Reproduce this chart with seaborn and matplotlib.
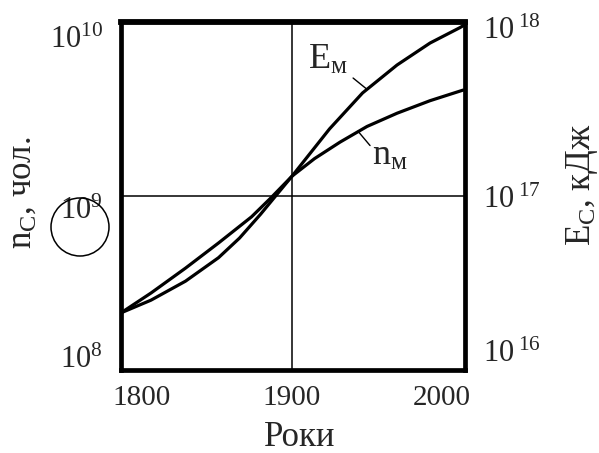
import numpy as np
import pandas as pd
import matplotlib
matplotlib.use("Agg")
import matplotlib.pyplot as plt
import matplotlib.transforms as mtransforms
from matplotlib.patches import Ellipse
from matplotlib.ticker import NullLocator, NullFormatter
import seaborn as sns

# Population (people) and energy use (kJ) over the years
n_years = [1786, 1806, 1829, 1851, 1873, 1886, 1900, 1915, 1932, 1950, 1970, 1992, 2014]
n_people = [2.13e8, 2.77e8, 3.85e8, 5.37e8, 7.59e8, 9.77e8, 1.30e9,
            1.64e9, 2.04e9, 2.51e9, 2.99e9, 3.53e9, 4.06e9]

e_years = [1786, 1806, 1829, 1851, 1865, 1879, 1890, 1900, 1925, 1947, 1970, 1992, 2012, 2015.3]
e_kj = [2.13e16, 2.52e16, 3.24e16, 4.42e16, 5.73e16, 7.85e16, 1.023e17,
        1.30e17, 2.43e17, 3.91e17, 5.66e17, 7.57e17, 9.29e17, 9.66e17]

x_ticks = [1800, 1900, 2000]
x_tick_labels = ["1800", "1900", "2000"]
n_ticks = [1e8, 1e9, 1e10]
n_tick_labels = [r"$10^{8}$", r"$10^{9}$", r"$10^{10}$"]
e_ticks = [1e16, 1e17, 1e18]
e_tick_labels = [r"$10^{\;16}$", r"$10^{\;17}$", r"$10^{\;18}$"]

sns.set_style("white")
plt.rcParams["font.family"] = ["Liberation Serif", "DejaVu Serif"]
plt.rcParams["mathtext.fontset"] = "custom"
plt.rcParams["mathtext.rm"] = "Liberation Serif"
plt.rcParams["mathtext.it"] = "Liberation Serif:italic"
plt.rcParams["mathtext.default"] = "regular"

df_n = pd.DataFrame({"year": n_years, "value": n_people})
df_e = pd.DataFrame({"year": e_years, "value": e_kj})

fig = plt.figure(figsize=(5.99, 4.53), dpi=100)
ax = fig.add_axes([121 / 599, 1 - 370 / 453, 344 / 599, 348 / 453])
ax2 = ax.twinx()

ax.set_yscale("log")
ax2.set_yscale("log")

# reference grid lines through the middle tick of each axis
ax.axvline(x_ticks[1], color="black", lw=1.1, zorder=1)
ax.axhline(n_ticks[1], color="black", lw=1.1, zorder=1)

line_kw = dict(color="black", lw=2.3, zorder=3, solid_joinstyle="round", solid_capstyle="round")
sns.lineplot(data=df_n, x="year", y="value", ax=ax, **line_kw)
sns.lineplot(data=df_e, x="year", y="value", ax=ax2, **line_kw)

for a in (ax, ax2):
    a.yaxis.set_minor_locator(NullLocator())
    a.yaxis.set_minor_formatter(NullFormatter())
    a.grid(False)

ax.set_xticks(x_ticks, labels=x_tick_labels)
ax.set_yticks(n_ticks, labels=n_tick_labels)
ax2.set_yticks(e_ticks, labels=e_tick_labels)
ax.set_xlim(1786, 2015.3)
ax.set_ylim(1e8, 1e10)
ax2.set_ylim(1e16, 1e18)

ax.tick_params(axis="x", length=0, pad=11, labelsize=21)
ax.tick_params(axis="y", length=0, pad=13, labelsize=22)
ax2.tick_params(axis="y", length=0, pad=13, labelsize=22)

# nudge the decade labels vertically (pixels, positive = down)
def shift_labels(labels, shifts):
    for lab, d in zip(labels, shifts):
        off = mtransforms.ScaledTranslation(0, -d / 100, fig.dpi_scale_trans)
        lab.set_transform(lab.get_transform() + off)

shift_labels(ax.get_yticklabels(), [-13, 12, 15])
shift_labels(ax2.get_yticklabels(), [-19, 1, 6])

for s in ax.spines.values():
    s.set_visible(True)
    s.set_linewidth(3.4)
    s.set_color("black")
ax.spines["top"].set_linewidth(4.2)
for s in ax2.spines.values():
    s.set_visible(False)

ax.set_xlabel("Роки", fontsize=25)
ax.xaxis.set_label_coords((300 - 121) / 344, (370 - 437) / 348)
ax.xaxis.label.set_va("center")

ax.set_ylabel(r"n$_\mathrm{C}$, чол.", fontsize=25)
ax.yaxis.set_label_coords((22 - 121) / 344, (370 - 193) / 348)
ax.yaxis.label.set_va("center")
ax.yaxis.label.set_ha("center")

ax2.set_ylabel(r"E$_\mathrm{C}$, кДж", fontsize=25, rotation=90)
ax2.yaxis.set_label_coords((582 - 121) / 344, (370 - 185) / 348)
ax2.yaxis.label.set_va("center")
ax2.yaxis.label.set_ha("center")

# curve labels with short leader lines
ax2.text(1910.7, 10 ** 17.78, r"E$_\mathrm{м}$", fontsize=26, ha="left", va="center")
ax2.annotate("", xy=(1950, 10 ** 17.613), xytext=(1940.7, 10 ** 17.678),
             arrowprops=dict(arrowstyle="-", lw=1.0, color="black", shrinkA=0, shrinkB=0))
ax.text(1953.3, 10 ** 9.23, r"n$_\mathrm{м}$", fontsize=26, ha="left", va="center")
ax.annotate("", xy=(1952, 10 ** 9.29), xytext=(1944, 10 ** 9.372),
            arrowprops=dict(arrowstyle="-", lw=1.0, color="black", shrinkA=0, shrinkB=0))

# hand-drawn circle beside the left axis
fig.patches.append(Ellipse((80 / 599, 1 - 227 / 453), 58 / 599, 58 / 453,
                           transform=fig.transFigure, fill=False,
                           edgecolor="black", lw=1.1))

fig.savefig("out.png", dpi=100)
